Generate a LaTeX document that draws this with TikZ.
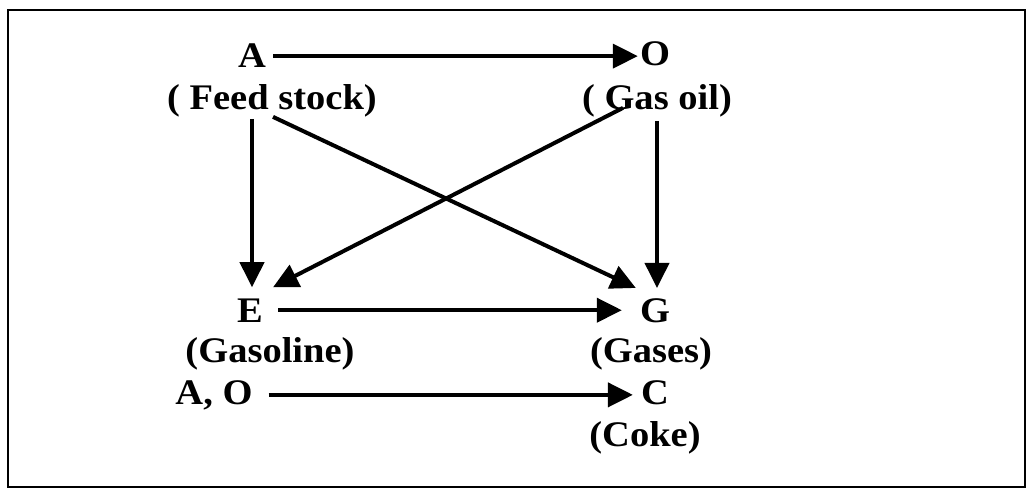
\documentclass[tikz,border=0pt]{standalone}
\usepackage{fontspec}
\setmainfont{Liberation Serif}[FakeStretch=1.07]
\usetikzlibrary{arrows.meta,calc}
\begin{document}
\begin{tikzpicture}[x=1pt,y=-1pt,
  lbl/.style={font=\fontsize{36}{40}\selectfont\bfseries, inner sep=0pt, anchor=base},
  arr/.style={line width=4pt, -{Triangle[length=25pt,width=24pt]}}]
\useasboundingbox (0,0) rectangle (1028,497);
\draw[line width=2pt] (8,10) rectangle (1025,487);
\node[lbl] (A) at (252,68) {A};
\node[lbl] (feed) at (272,110) {( Feed stock)};
\node[lbl] (O) at (655,66) {O};
\node[lbl] (gasoil) at (657,110) {( Gas oil)};
\node[lbl] (E) at (250,322) {E};
\node[lbl] (gasoline) at (270,362) {(Gasoline)};
\node[lbl] (G) at (655,322) {G};
\node[lbl] (gases) at (651,362) {(Gases)};
\node[lbl] (AO) at (214,404) {A, O};
\node[lbl] (C) at (655,404) {C};
\node[lbl] (coke) at (645,446) {(Coke)};
\draw[arr, shorten <=7pt, shorten >=2pt] (A.east) -- (A.east -| O.west);
\draw[arr, shorten <=1pt, shorten >=11pt] ($(feed.south -| E.north)+(2,0)$) -- ($(E.north)+(2,0)$);
\draw[arr, shorten <=3pt, shorten >=10pt] ($(gasoil.south -| O.north)+(2,0)$) -- ($(O |- G.north)+(2,0)$);
\draw[arr] ($(feed.south)+(1,-1)$) -- ($(G.north west)+(-4,-10)$);
\draw[arr] ($(gasoil.south)+(-34,-10)$) -- ($(E.north east)+(10,-11)$);
\draw[arr, shorten <=15pt, shorten >=18pt] (E.east) -- (E.east -| G.west);
\draw[arr, shorten <=16pt, shorten >=8pt] (AO.east) -- (AO.east -| C.west);
\end{tikzpicture}
\end{document}
